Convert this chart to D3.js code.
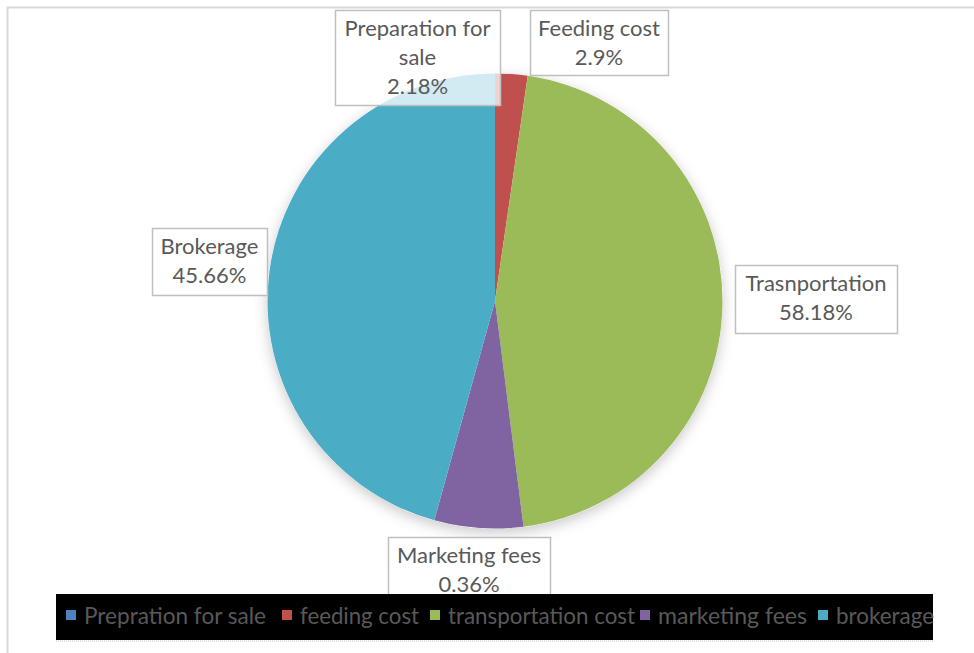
<!DOCTYPE html>
<html><head><meta charset="utf-8">
<script src="https://cdn.jsdelivr.net/npm/d3@7"></script>
<style>body{margin:0;background:#fff;overflow:hidden}</style>
</head><body>
<svg id="c" width="974" height="653"></svg>
<script>
// ---- data ----
const categories = ["Prepration for sale","feeding cost","transportation cost","marketing fees","brokerage"];
const shares = [0, 2.3, 45.7, 6.3, 45.7];           // slice shares as drawn in the picture
const labelTitles = [["Preparation for","sale"],["Feeding cost"],["Trasnportation"],["Marketing fees"],["Brokerage"]];
const labelValues = ["2.18%","2.9%","58.18%","0.36%","45.66%"];
const colors = ["#4F81BD","#C0504D","#9BBB59","#8064A2","#4BACC6"];

// ---- layout ----
const W = 974, H = 653;
const cx = 495, cy = 301, R = 227.5;
const labelBoxes = [ // [x, y, w, h] of data-label boxes (manually placed in source)
  [335, 10, 165, 95],
  [530, 10, 138, 65],
  [735, 265, 162, 68],
  [388, 537, 162, 70],
  [152, 228, 115, 67]
];
const legendX = [66, 282, 430, 640, 818];
const legendTextW = [182, 119, 187, 149, 98];

const svg = d3.select("#c");
svg.append("rect").attr("width", W).attr("height", H).attr("fill", "#fff");
// chart area border
svg.append("path").attr("d", `M7.5,${H} V7.5 H${W}`).attr("fill","none").attr("stroke","#d9d9d9").attr("stroke-width",2);

const defs = svg.append("defs");
const f = defs.append("filter").attr("id","sh").attr("x","-20%").attr("y","-20%").attr("width","140%").attr("height","140%");
f.append("feDropShadow").attr("dx",0).attr("dy",4).attr("stdDeviation",7).attr("flood-color","#000").attr("flood-opacity",0.22);

const pie = d3.pie().sort(null).value(d => d.v);
const data = categories.map((c,i)=>({c, v: shares[i], i}));
const arcs = pie(data);
const arc = d3.arc().innerRadius(0).outerRadius(R);

const g = svg.append("g").attr("transform", `translate(${cx},${cy})`);
g.append("circle").attr("r", R).attr("fill", "#fff").attr("filter","url(#sh)");
g.selectAll("path.s").data(arcs).join("path").attr("class","s")
  .attr("d", arc).attr("fill", d => colors[d.data.i]);

// data labels
const lf = "Lato, 'Open Sans', sans-serif";
arcs.forEach(a => {
  const i = a.data.i;
  const [bx, by, bw, bh] = labelBoxes[i];
  const lg = svg.append("g");
  lg.append("rect").attr("x", bx+0.5).attr("y", by+0.5).attr("width", bw).attr("height", bh)
    .attr("fill", "#fff").attr("fill-opacity", 0.75).attr("stroke", "#bfbfbf").attr("stroke-width", 1.5);
  const lines = labelTitles[i].concat([labelValues[i]]);
  const lh = 29;
  lines.forEach((t, k) => {
    lg.append("text").attr("x", bx + bw/2).attr("y", by + 20 + k*lh)
      .attr("text-anchor","middle").attr("dominant-baseline","middle")
      .attr("font-family", lf).attr("font-size", 22).attr("fill", "#595959").text(t);
  });
});

// legend
const leg = svg.append("g");
leg.append("rect").attr("x", 56).attr("y", 594).attr("width", 877).attr("height", 46).attr("fill", "#000");
leg.append("line").attr("x1",56).attr("x2",933).attr("y1",641).attr("y2",641).attr("stroke","#bbb").attr("stroke-dasharray","1,1");
categories.forEach((c, i) => {
  leg.append("rect").attr("x", legendX[i]).attr("y", 610).attr("width", 10).attr("height", 10).attr("fill", colors[i]);
  leg.append("text").attr("x", legendX[i] + 18).attr("y", 624)
    .attr("font-family", lf).attr("font-size", 24).attr("fill", "#595959")
    .attr("textLength", legendTextW[i]).attr("lengthAdjust", "spacingAndGlyphs").text(c);
});
</script>
</body></html>
